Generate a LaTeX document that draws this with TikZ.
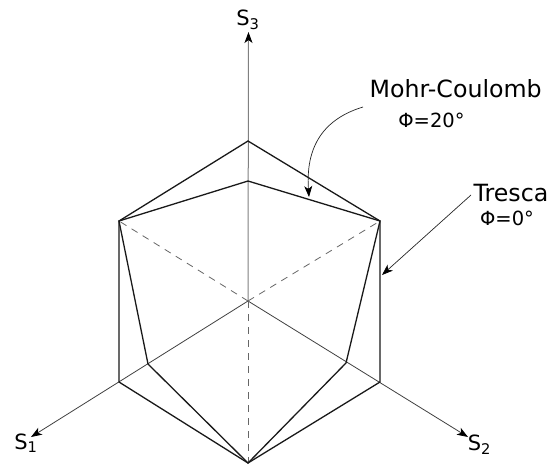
\documentclass[tikz,border=0pt]{standalone}
\usepackage{fontspec}
\setmainfont{DejaVu Sans}
\usetikzlibrary{arrows.meta}
\tikzset{
  hull/.style={line width=1.3pt,black!90,line join=miter},
  axis/.style={line width=0.8pt,black!75,-{Stealth[length=11pt,width=8pt,inset=3pt,color=black]}},
  vaxis/.style={line width=1pt,black!50,-{Stealth[length=11pt,width=8pt,inset=3pt,color=black]}},
  hidden/.style={line width=0.8pt,black!60,dash pattern=on 7pt off 6pt},
  leader/.style={line width=0.7pt,black!85,-{Stealth[length=11pt,width=8pt,inset=3pt,color=black]}},
  lab/.style={inner sep=0pt,font=\fontsize{23.7}{24}\selectfont,text=black},
  phi/.style={inner sep=0pt,font=\fontsize{19.5}{20}\selectfont,text=black},
  axl/.style={inner sep=0pt,font=\fontsize{21}{21}\selectfont,text=black}
}
\begin{document}
\begin{tikzpicture}[x=1pt,y=-1pt]
\useasboundingbox (0,0) rectangle (549,464);
\coordinate (O) at (248,301);
\coordinate (T) at (248,141);
\coordinate (R1) at (380,221);
\coordinate (R2) at (380,382);
\coordinate (B) at (248,463);
\coordinate (L2) at (119,382);
\coordinate (L1) at (119,221);
\coordinate (M3) at (248,181);
\coordinate (M2) at (346,363);
\coordinate (M1) at (148,364);
\coordinate (A3) at (248.5,32);
\coordinate (A1) at (31,437);
\coordinate (A2) at (468,437);
% axes
\draw[vaxis] (O) -- (A3);
\draw[axis] (O) -- (A1);
\draw[axis] (O) -- (A2);
\draw[hidden] (O) -- (L1);
\draw[hidden] (O) -- (R1);
\draw[hidden] (O) -- (B);
% Tresca
\draw[hull] (T) -- (R1) -- (R2) -- (B) -- (L2) -- (L1) -- cycle;
% Mohr-Coulomb
\draw[hull] (M3) -- (R1) -- (M2) -- (B) -- (M1) -- (L1) -- cycle;
% labels
\node[axl] (s3) at (248,20) {S\textsubscript{3}};
\node[axl] (s1) at (26,443) {S\textsubscript{1}};
\node[axl] (s2) at (479.5,445) {S\textsubscript{2}};
\node[lab] (mc) at (455.7,89) {Mohr-Coulomb};
\node[phi] (mcp) at (431.5,120) {Φ=20°};
\node[lab] (tr) at (511,193) {Tresca};
\node[phi] (trp) at (507,218) {Φ=0°};
\coordinate (mcs) at (363,107);
\coordinate (trs) at (471,195);
\draw[leader] (mcs) .. controls (330,117) and (305,140) .. (309,197);
\draw[leader] (trs) -- (382,275);
\end{tikzpicture}
\end{document}
